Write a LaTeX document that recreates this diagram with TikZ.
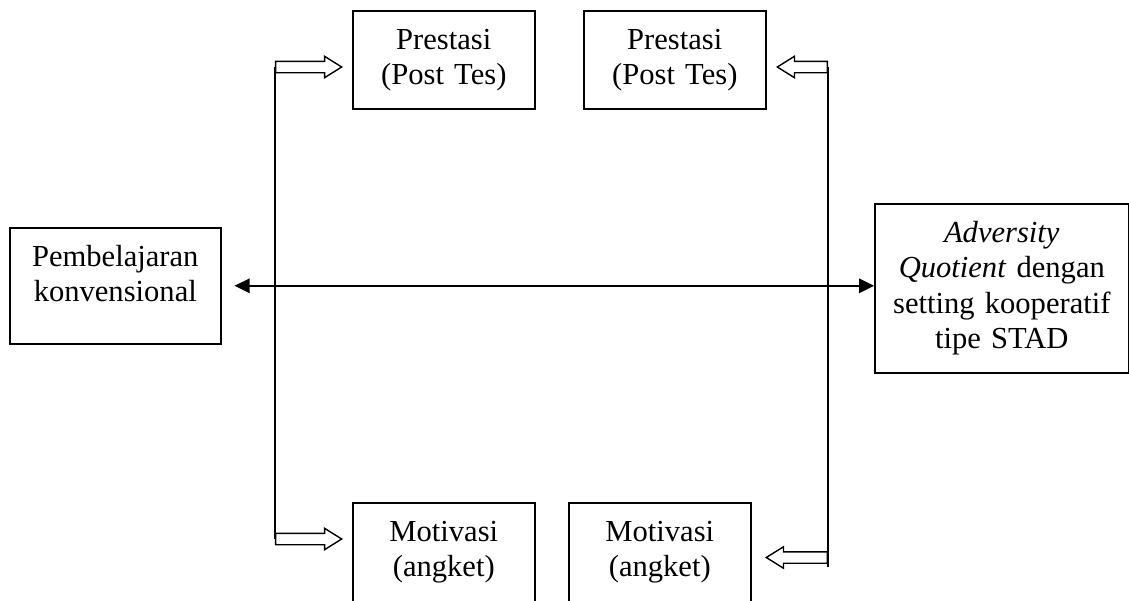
\documentclass[tikz,border=0pt]{standalone}
\usepackage{fontspec}
\setmainfont{Liberation Serif}
\usetikzlibrary{shapes.arrows,arrows.meta}

\begin{document}
\begin{tikzpicture}[
      >={Triangle[length=0.3cm,width=0.29cm]},
      box/.style={
        draw,
        line width=0.9pt,
        anchor=north west,
        align=center,
        inner xsep=0pt,
        inner ysep=0pt,
        text height=0.77cm,
        font=\fontsize{17.4}{20.2}\selectfont
      },
      hollow/.style={
        single arrow,
        draw,
        line width=0.8pt,
        inner xsep=0pt,
        inner ysep=0.1cm,
        single arrow head extend=0.1cm,
        single arrow tip angle=64,
        anchor=tip
      },
      link/.style={
        line width=0.9pt
      }
    ]
      \useasboundingbox (0,0) rectangle (22.58,-12);

      \node[box,text width=4.22cm,text depth=1.55cm] (pemb) at (0.18,-4.54) {Pembelajaran\\konvensional};
      \node[box,text width=5.08cm,text depth=2.61cm] (adv) at (17.48,-4.06)
        {\textit{Adversity}\\\textit{Quotient} dengan\\setting kooperatif\\tipe STAD};

      \node[box,text width=3.64cm,text depth=1.19cm] (pre1) at (7.04,-0.2) {Prestasi\\(Post Tes)};
      \node[box,text width=3.64cm,text depth=1.19cm] (pre2) at (11.66,-0.2) {Prestasi\\(Post Tes)};
      \node[box,text width=3.64cm,text depth=1.23cm] (mot1) at (7.04,-10.04) {Motivasi\\(angket)};
      \node[box,text width=3.64cm,text depth=1.23cm] (mot2) at (11.36,-10.04) {Motivasi\\(angket)};

      \foreach \x/\y/\l/\r/\n in {6.86/-1.34/1.32/0/in1,6.86/-10.78/1.32/0/in2,
                                  15.52/-1.34/1.0/180/in3,15.30/-11.15/1.22/180/in4}
        \node[hollow,minimum height=\l cm,shape border rotate=\r] (\n) at (\x,\y) {};

      \draw[link] (in1.tail) -- (in2.tail);
      \draw[link] (in3.tail) -- ([yshift=-0.19cm]in4.tail);
      \draw[link,<->] ([xshift=0.26cm]pemb.east) -- (pemb.east -| adv.west);
    \end{tikzpicture}
\end{document}
